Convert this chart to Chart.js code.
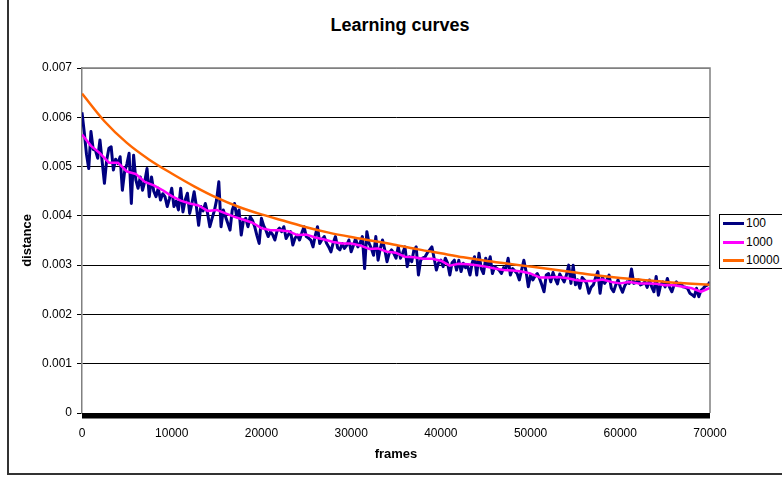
<!DOCTYPE html>
<html>
<head>
<meta charset="utf-8">
<title>Learning curves</title>
<script src="https://cdn.jsdelivr.net/npm/chart.js@4.4.1/dist/chart.umd.min.js"></script>
<style>
  body { margin: 0; background: #fff; }
  #wrap { position: relative; width: 782px; height: 477px; overflow: hidden;
          font-family: "Liberation Sans", Arial, sans-serif; color: #000; }
  #frame { position: absolute; left: 7px; top: -10px; width: 820px; height: 483px;
           border-left: 2px solid #333; border-bottom: 2px solid #333; }
  #title { position: absolute; left: 0; top: 15px; width: 800px; text-align: center;
           font-weight: bold; font-size: 18px; line-height: 20px; }
  #chart { position: absolute; left: 0; top: 0; }
  #legend { position: absolute; left: 719px; top: 214px; width: 70px; height: 53px;
            border: 1px solid #000; background: #fff; font-size: 12px; }
  .row { position: absolute; left: 0; height: 14px; line-height: 14px; }
  .row span { position: absolute; left: 3px; top: 6px; width: 21px; height: 3px; }
  .row b { position: absolute; left: 26px; top: 0; font-weight: normal; white-space: nowrap; }
</style>
</head>
<body>
<div id="wrap">
  <div id="frame"></div>
  <div id="title">Learning curves</div>
  <canvas id="chart" width="782" height="477"></canvas>
  <div id="legend"></div>
</div>
<script>
// distances are written in thousandths (0.001 units)
const seriesNames = ["100", "1000", "10000"];
const seriesColors = ["#000080", "#FF00FF", "#FF6600"];

// "100": one value every 250 frames, 0 .. 70000
const step100 = 250;
const dist100 = [
  6.10, 5.70, 5.25, 4.96, 5.71, 5.35, 5.33, 5.17, 5.54, 5.10, 4.66, 5.13, 5.37, 5.40, 4.93, 5.15,
  5.06, 5.20, 4.52, 4.90, 5.05, 5.27, 4.25, 5.23, 4.73, 4.56, 4.79, 4.52, 4.70, 4.96, 4.39, 4.79,
  4.50, 4.39, 4.56, 4.32, 4.45, 4.39, 4.19, 4.35, 4.56, 4.19, 4.30, 4.12, 4.56, 4.08, 4.32, 4.46,
  4.05, 4.25, 4.49, 4.19, 3.81, 4.19, 4.10, 4.25, 4.05,
  3.78, 3.95, 4.10, 4.32, 4.69, 3.78, 4.12, 3.98, 3.85, 3.71, 4.12, 4.25, 3.98, 4.12, 3.61, 3.91,
  3.95, 3.78, 3.98, 3.91, 3.78, 3.60, 3.44, 3.95, 3.80, 3.71, 3.58, 3.68, 3.62, 3.51, 3.70, 3.75,
  3.68, 3.78, 3.54, 3.62, 3.68, 3.41, 3.55, 3.61, 3.51, 3.65, 3.78, 3.58, 3.55, 3.51, 3.37, 3.60,
  3.78, 3.44, 3.52, 3.58, 3.45, 3.37, 3.27, 3.45,
  3.58, 3.35, 3.31, 3.44, 3.34, 3.40, 3.51, 3.27, 3.40, 3.54, 3.37, 3.45, 3.58, 2.93, 3.68, 3.44,
  3.34, 3.20, 3.58, 3.10, 3.34, 3.51, 3.31, 3.07, 3.25, 3.31, 3.24, 3.14, 3.37, 3.14, 3.25, 3.37,
  2.97, 3.17, 3.07, 3.31, 3.37, 2.80, 3.10, 3.15, 3.17, 3.25, 3.31, 3.37, 3.14, 2.90, 3.05, 3.10,
  2.97, 3.14, 3.04, 2.80, 3.05, 3.10, 2.90, 3.10,
  2.87, 3.04, 2.95, 2.97, 2.80, 3.05, 3.17, 2.80, 3.24, 2.93, 2.83, 3.14, 3.00, 3.17, 2.83, 2.97,
  2.93, 2.90, 2.83, 2.95, 2.93, 3.14, 2.80, 2.93, 2.88, 2.83, 2.70, 2.90, 3.10, 2.87, 2.56, 2.80,
  2.70, 2.78, 2.83, 2.73, 2.60, 2.46, 2.80, 2.83, 2.66, 2.85, 2.72, 2.62, 2.82, 2.74, 2.66, 2.80,
  3.00, 2.63, 3.00, 2.60, 2.70, 2.53, 2.75,
  2.70, 2.63, 2.43, 2.55, 2.60, 2.75, 2.87, 2.43, 2.77, 2.63, 2.70, 2.80, 2.53, 2.46, 2.60, 2.70,
  2.56, 2.45, 2.58, 2.66, 2.63, 2.92, 2.63, 2.65, 2.70, 2.60, 2.62, 2.66, 2.55, 2.70, 2.56, 2.46,
  2.77, 2.39, 2.60, 2.66, 2.56, 2.73, 2.55, 2.46, 2.60, 2.66, 2.60, 2.63, 2.56, 2.55, 2.53, 2.43,
  2.40, 2.36, 2.53, 2.36, 2.49, 2.53, 2.58, 2.60, 2.66
];

// "1000": one value every 1000 frames
const step1000 = 1000;
const dist1000 = [
  5.65, 5.42, 5.27, 5.08, 5.08, 4.90, 4.85, 4.69, 4.62, 4.52,
  4.40, 4.31, 4.25, 4.21, 4.10, 4.12, 4.05, 3.98, 3.92, 3.86,
  3.75, 3.71, 3.71, 3.69, 3.61, 3.62, 3.56, 3.52, 3.47, 3.44,
  3.44, 3.40, 3.33, 3.34, 3.27, 3.25, 3.17, 3.16, 3.13, 3.13,
  3.09, 2.99, 3.03, 3.02, 3.00, 2.97, 2.93, 2.90, 2.89, 2.87,
  2.83, 2.75, 2.75, 2.76, 2.74, 2.70, 2.68, 2.68, 2.71, 2.66,
  2.63, 2.66, 2.63, 2.63, 2.62, 2.59, 2.59, 2.56, 2.53, 2.46,
  2.54
];

// "10000": one value every 2500 frames
const step10000 = 2500;
const dist10000 = [
  6.48, 5.92, 5.48, 5.14, 4.86, 4.60, 4.37, 4.18, 4.03, 3.90,
  3.77, 3.66, 3.57, 3.49, 3.41, 3.32, 3.24, 3.16, 3.09, 3.03,
  2.97, 2.91, 2.85, 2.79, 2.74, 2.70, 2.66, 2.63, 2.60
];

const xTicks = [0, 10000, 20000, 30000, 40000, 50000, 60000, 70000];
const yTicks = [0, 0.001, 0.002, 0.003, 0.004, 0.005, 0.006, 0.007];

function toPoints(values, step) {
  return values.map((v, i) => ({ x: i * step, y: v / 1000 }));
}

Chart.defaults.font.family = '"Liberation Sans", Arial, sans-serif';
Chart.defaults.color = "#000";

const plotFrame = {
  id: "plotFrame",
  afterDatasetsDraw(chart) {
    const { ctx, chartArea: a } = chart;
    ctx.save();
    ctx.strokeStyle = "#808080";
    ctx.lineWidth = 1.5;
    ctx.beginPath();
    ctx.moveTo(a.left, a.top);
    ctx.lineTo(a.right, a.top);
    ctx.lineTo(a.right, a.bottom);
    ctx.stroke();
    ctx.fillStyle = "#000";
    ctx.fillRect(a.left, a.bottom, a.right - a.left, 5.5);
    ctx.restore();
  },
};

new Chart(document.getElementById("chart"), {
  type: "line",
  data: {
    datasets: [
      {
        label: seriesNames[0],
        data: toPoints(dist100, step100),
        borderColor: seriesColors[0],
        borderWidth: 3,
        borderJoinStyle: "round",
        pointRadius: 0,
        tension: 0,
        order: 3,
      },
      {
        label: seriesNames[1],
        data: toPoints(dist1000, step1000),
        borderColor: seriesColors[1],
        borderWidth: 2.5,
        borderJoinStyle: "round",
        pointRadius: 0,
        tension: 0,
        order: 2,
      },
      {
        label: seriesNames[2],
        data: toPoints(dist10000, step10000),
        borderColor: seriesColors[2],
        borderWidth: 2.5,
        pointRadius: 0,
        cubicInterpolationMode: "monotone",
        order: 1,
      },
    ],
  },
  options: {
    responsive: false,
    animation: false,
    layout: { padding: { top: 68, right: 72, left: 0, bottom: 0 } },
    plugins: {
      legend: { display: false },
      tooltip: { enabled: false },
    },
    scales: {
      x: {
        type: "linear",
        min: 0,
        max: 70000,
        afterFit: (s) => { s.height = 64; },
        afterBuildTicks: (s) => { s.ticks = xTicks.map((v) => ({ value: v })); },
        ticks: {
          font: { size: 12 },
          padding: 13,
          maxRotation: 0,
          callback: (v) => String(v),
        },
        grid: { drawOnChartArea: false, drawTicks: false },
        border: { display: false },
        title: {
          display: true,
          text: "frames",
          font: { size: 13, weight: "bold" },
          padding: { top: 0, bottom: 15 },
        },
      },
      y: {
        min: 0,
        max: 0.007,
        afterFit: (s) => { s.width = 82; },
        afterBuildTicks: (s) => { s.ticks = yTicks.map((v) => ({ value: v })); },
        ticks: {
          font: { size: 12 },
          padding: 5,
          callback: (v) => (v === 0 ? "0" : v.toFixed(3)),
        },
        grid: {
          color: (c) => (c.tick && c.tick.value > 0.0069 ? "#808080" : "#000"),
          tickColor: "#000",
          tickLength: 5,
          lineWidth: 1,
        },
        border: { color: "#808080", width: 1.5 },
        title: {
          display: true,
          text: "distance",
          font: { size: 13, weight: "bold" },
          padding: { top: 20, bottom: 0 },
        },
      },
    },
  },
  plugins: [plotFrame],
});

// legend box on the right, partly cut by the page edge as in the picture
const legend = document.getElementById("legend");
seriesNames.forEach((name, i) => {
  const row = document.createElement("div");
  row.className = "row";
  row.style.top = (1 + i * 18.5) + "px";
  row.innerHTML = '<span style="background:' + seriesColors[i] + '"></span><b>' + name + "</b>";
  legend.appendChild(row);
});
</script>
</body>
</html>
